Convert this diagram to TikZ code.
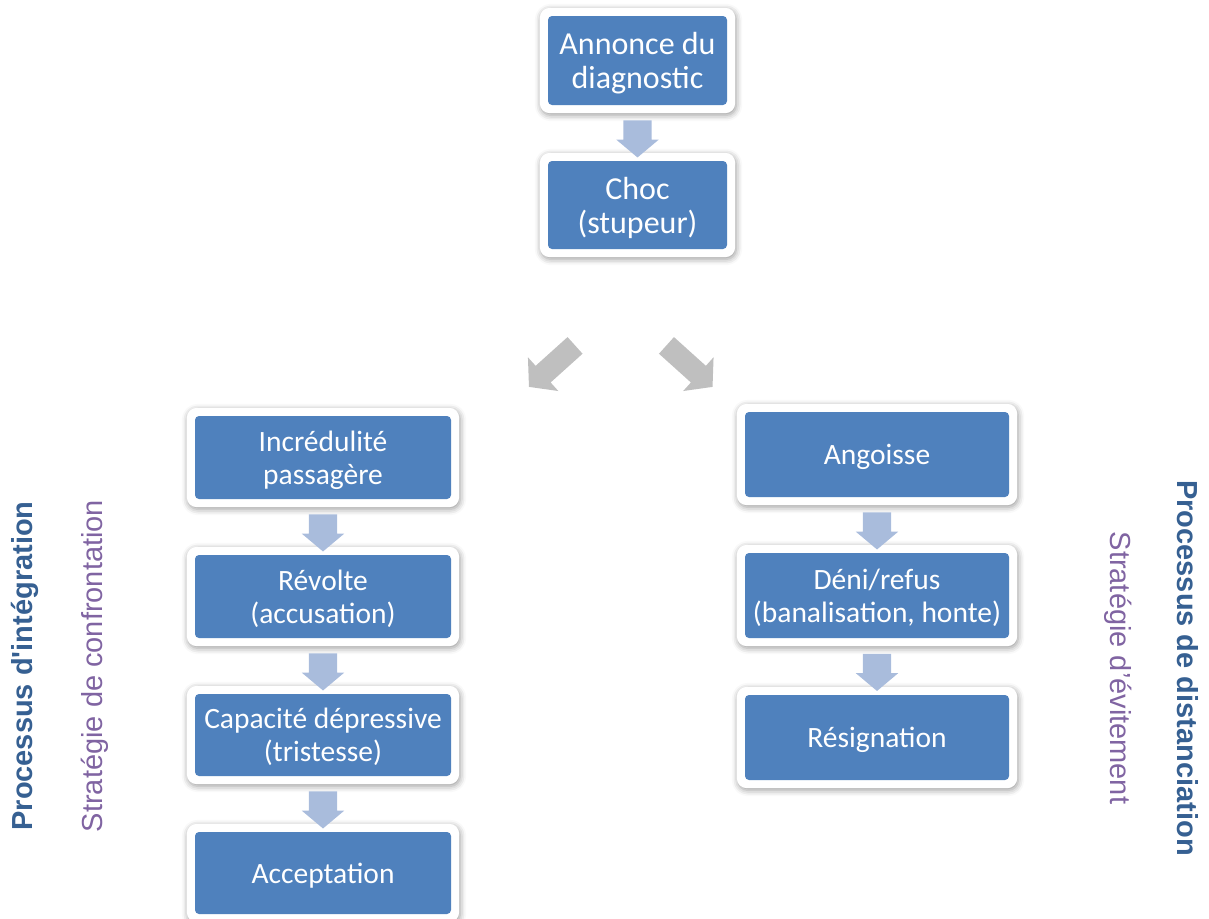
\documentclass[tikz,border=0pt]{standalone}
\usepackage{fontspec}
\setmainfont{Carlito}
\newfontfamily\labelfont{Liberation Sans}
\usetikzlibrary{shapes.arrows,shadows.blur,fit,backgrounds,calc}

\definecolor{boxblue}{HTML}{4F81BD}
\definecolor{flowblue}{RGB}{169,188,220}
\definecolor{splitgray}{HTML}{BFBFBF}
\definecolor{processblue}{RGB}{54,96,146}
\definecolor{strategypurple}{RGB}{128,100,162}

\begin{document}
\begin{tikzpicture}[x=1pt,y=-1pt,
  stage/.style={fill=boxblue, rounded corners=4pt, text=white, align=center,
    inner sep=0pt, text depth=0pt, font=\fontsize{29.5}{33}\selectfont},
  topstage/.style={stage, font=\fontsize{32}{34}\selectfont},
  frame/.style={fill=white, rounded corners=10pt, inner sep=8pt,
    blur shadow={shadow xshift=1pt, shadow yshift=-2pt,
      shadow blur radius=6pt, shadow opacity=40}},
  downarrow/.style={single arrow, rotate=-90, fill=flowblue,
    minimum height=37pt, inner xsep=0pt, inner ysep=14pt,
    single arrow head extend=7pt, single arrow tip angle=100},
  splitarrow/.style={single arrow, fill=splitgray, minimum height=62pt,
    inner xsep=0pt, inner ysep=11pt, single arrow head extend=11.5pt,
    single arrow tip angle=100},
  process/.style={font=\labelfont\bfseries\fontsize{29}{33}\selectfont,
    text=processblue, inner sep=0pt},
  strategy/.style={font=\labelfont\fontsize{29}{33}\selectfont,
    text=strategypurple, inner sep=0pt}
]
\useasboundingbox (0,0) rectangle (1209,918);

% common start
\node[topstage, minimum width=179pt, minimum height=89pt] (ann) at (637.5,60.5) {Annonce du\\diagnostic};
\node[topstage, minimum width=179pt, minimum height=88pt] (choc) at (637.5,205) {Choc\\(stupeur)};

% integration column
\node[stage, minimum width=256pt, minimum height=83pt] (incr) at (323,457.5) {Incrédulité\\passagère};
\node[stage, minimum width=256pt, minimum height=83pt] (rev) at (323,596.5) {Révolte\\(accusation)};
\node[stage, minimum width=256pt, minimum height=82pt] (cap) at (323,735) {Capacité dépressive\\(tristesse)};
\node[stage, minimum width=256pt, minimum height=82pt] (acc) at (323,873) {Acceptation};

% distancing column
\node[stage, minimum width=264pt, minimum height=85pt] (ang) at (877,454.5) {Angoisse};
\node[stage, minimum width=264pt, minimum height=85pt] (deni) at (877,595.5) {Déni/refus\\(banalisation, honte)};
\node[stage, minimum width=264pt, minimum height=85pt] (res) at (877,737.5) {Résignation};

% white frames with soft shadows behind each stage
\begin{scope}[on background layer]
  \foreach \n in {ann,choc,incr,rev,cap,acc,ang,deni,res}
    \node[frame, fit=(\n)] {};
\end{scope}

% arrows between consecutive stages
\node[downarrow] (a1) at ($(ann.south)!0.5!(choc.north)$) {};
\node[downarrow] (a2) at ($(incr.south)!0.5!(rev.north)$) {};
\node[downarrow] (a3) at ($(rev.south)!0.5!(cap.north)$) {};
\node[downarrow] (a4) at ($(cap.south)!0.5!(acc.north)$) {};
\node[downarrow] (a5) at ($(ang.south)!0.5!(deni.north)$) {};
\node[downarrow] (a6) at ($(deni.south)!0.5!(res.north)$) {};

% split towards both processes
\node[splitarrow, rotate=222] (splitleft) at (555.5,363) {};
\node[splitarrow, rotate=-42] (splitright) at (686,363) {};

% side labels
\node[process, rotate=90] (procint) at (25,666) {Processus d'intégration};
\node[strategy, rotate=90] (stratconf) at (95,666) {Stratégie de confrontation};
\node[process, rotate=-90] (procdist) at (1188,668) {Processus de distanciation};
\node[strategy, rotate=-90] (stratevit) at (1118,668) {Stratégie d’évitement};
\end{tikzpicture}
\end{document}
